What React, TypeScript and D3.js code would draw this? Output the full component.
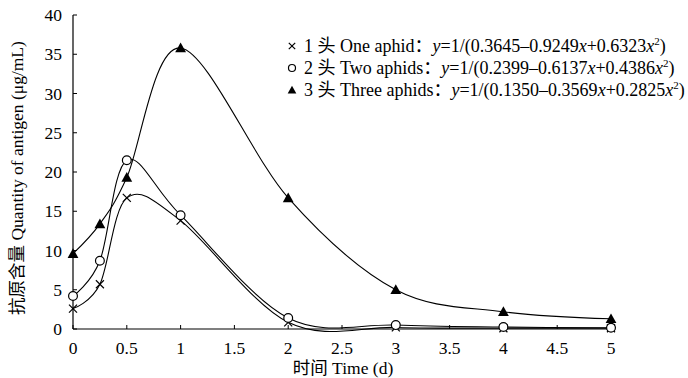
import React from "react";
import * as d3 from "d3";

const days = [0, 0.25, 0.5, 1, 2, 3, 4, 5];
const oneAphid = [2.6, 5.7, 16.7, 13.8, 0.85, 0.2, 0.1, 0.1];
const twoAphids = [4.2, 8.7, 21.5, 14.5, 1.4, 0.5, 0.25, 0.15];
const threeAphids = [9.6, 13.4, 19.3, 35.8, 16.7, 5.0, 2.2, 1.3];
const xTicks = [0, 0.5, 1, 1.5, 2, 2.5, 3, 3.5, 4, 4.5, 5];
const yTicks = [0, 5, 10, 15, 20, 25, 30, 35, 40];
const legendNums = ["1", "2", "3"];
const legendNames = ["One aphid", "Two aphids", "Three aphids"];
const legendCoefs = [
  ["0.3645", "0.9249", "0.6323"],
  ["0.2399", "0.6137", "0.4386"],
  ["0.1350", "0.3569", "0.2825"],
];

const W = 688, H = 378;
const FONT: React.CSSProperties = { fontFamily: "'Liberation Serif', 'Noto Sans CJK SC', serif" };

export default function App() {
  const x = d3.scaleLinear().domain([0, 5]).range([73, 611]);
  const y = d3.scaleLinear().domain([0, 40]).range([329, 15]);
  const line = d3
    .line<number>()
    .x((_, i) => x(days[i]))
    .y((d) => y(d))
    .curve(d3.curveCardinal.tension(0));
  const series = [oneAphid, twoAphids, threeAphids];

  const marker = (k: number, cx: number, cy: number, key: string, sc = 1) => {
    if (k === 0) {
      const s = 4 * sc;
      return (
        <g key={key} stroke="#000" strokeWidth={1.2}>
          <line x1={cx - s} y1={cy - s} x2={cx + s} y2={cy + s} />
          <line x1={cx - s} y1={cy + s} x2={cx + s} y2={cy - s} />
        </g>
      );
    }
    if (k === 1) {
      return <circle key={key} cx={cx} cy={cy} r={4.4 * sc} fill="#fff" stroke="#000" strokeWidth={1.2} />;
    }
    const s = 5.4 * sc;
    return (
      <path
        key={key}
        d={`M${cx},${cy - s} L${cx + s},${cy + s * 0.8} L${cx - s},${cy + s * 0.8} Z`}
        fill="#000"
      />
    );
  };

  return (
    <svg width={W} height={H} style={{ display: "block", position: "absolute", left: 0, top: 0, background: "#fff", ...FONT }}>
      <rect width={W} height={H} fill="#fff" />
      {/* axes */}
      <line x1={x(0)} y1={y(40)} x2={x(0)} y2={y(0)} stroke="#000" strokeWidth={1.2} />
      <line x1={x(0)} y1={y(0)} x2={x(5)} y2={y(0)} stroke="#000" strokeWidth={1.2} />
      {yTicks.map((t) => (
        <g key={"y" + t}>
          <line x1={x(0)} x2={x(0) + 4} y1={y(t)} y2={y(t)} stroke="#000" strokeWidth={1} />
          <text x={x(0) - 11} y={y(t)} dy="0.35em" textAnchor="end" fontSize={17.5} style={FONT}>{t}</text>
        </g>
      ))}
      {xTicks.map((t) => (
        <g key={"x" + t}>
          <line x1={x(t)} x2={x(t)} y1={y(0)} y2={y(0) - 4} stroke="#000" strokeWidth={1} />
          <text x={x(t)} y={y(0) + 25} textAnchor="middle" fontSize={17.5} style={FONT}>{t}</text>
        </g>
      ))}
      <text x={343} y={374} textAnchor="middle" fontSize={17.5} style={FONT}>时间 Time (d)</text>
      <text transform={`translate(23,${178}) rotate(-90)`} textAnchor="middle" fontSize={17.5} style={FONT}>
        抗原含量 Quantity of antigen (μg/mL)
      </text>
      {/* curves */}
      {series.map((s, k) => (
        <path key={"l" + k} d={line(s) || ""} fill="none" stroke="#000" strokeWidth={1.1} />
      ))}
      {series.map((s, k) => s.map((v, i) => marker(k, x(days[i]), y(v), `m${k}-${i}`)))}
      {/* legend */}
      {legendNames.map((n, k) => {
        const ly = 46 + k * 22;
        const c = legendCoefs[k];
        return (
          <g key={"lg" + k}>
            {marker(k, 292, ly, "lm" + k, 0.8)}
            <text x={304} y={ly} dy="0.35em" fontSize={18} style={FONT}>
              {`${legendNums[k]} 头 ${n}：`}
              <tspan fontStyle="italic">y</tspan>
              {`=1/(${c[0]}–${c[1]}`}
              <tspan fontStyle="italic">x</tspan>
              {`+${c[2]}`}
              <tspan fontStyle="italic">x</tspan>
              <tspan fontSize={11} dy="-7">2</tspan>
              <tspan dy="7">)</tspan>
            </text>
          </g>
        );
      })}
    </svg>
  );
}
